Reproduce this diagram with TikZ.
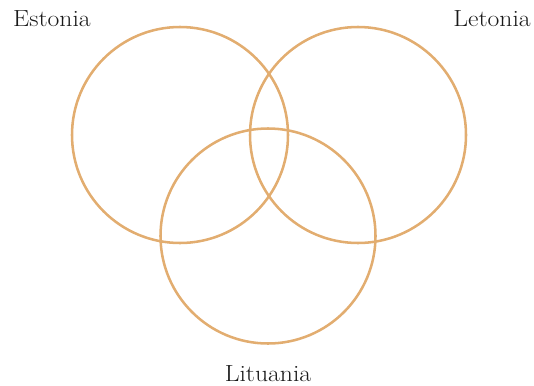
\documentclass[tikz,border=0pt]{standalone}
\definecolor{venn}{HTML}{E2AD70}
\begin{document}
\begin{tikzpicture}[x=0.75pt,y=-0.75pt,
  ring/.style={draw=venn,line width=1.9pt},
  lab/.style={font=\fontsize{17.5}{21}\selectfont,text=black!90,inner sep=0pt,anchor=base,xscale=1.1}]
\useasboundingbox (0,0) rectangle (534,385);
\node[ring,circle,minimum size=216*0.75pt,inner sep=0pt] (est) at (180,135) {};
\node[ring,circle,minimum size=216*0.75pt,inner sep=0pt] (let) at (358,135) {};
\node[ring,circle,minimum size=215*0.75pt,inner sep=0pt] (lit) at (268,236) {};
\node[lab] (tEst) at (52,27) {Estonia};
\node[lab] (tLet) at (492,27) {Letonia};
\node[lab] (tLit) at (268,381) {Lituania};
\end{tikzpicture}
\end{document}
